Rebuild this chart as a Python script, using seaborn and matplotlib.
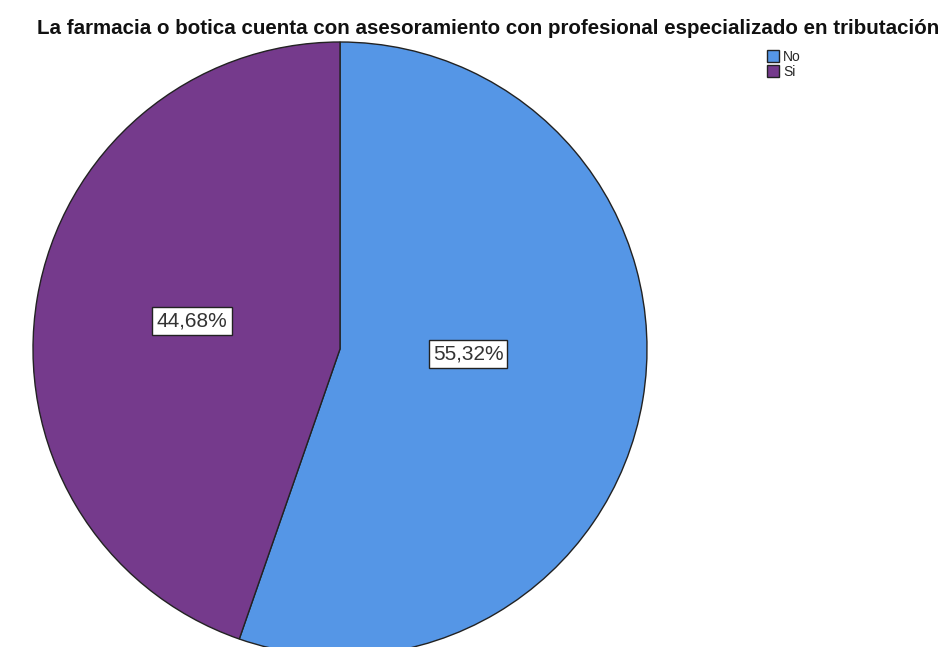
import matplotlib
matplotlib.use('Agg')
import matplotlib.pyplot as plt
import seaborn as sns

categories = ['No', 'Si']
percentages = [55.32, 44.68]
slice_colors = ['#5596E6', '#753A8C']
title = 'La farmacia o botica cuenta con asesoramiento con profesional especializado en tributación'
# label anchor points inside each slice (fraction of radius)
label_pos = [(0.417, -0.016), (-0.482, 0.091)]

sns.set_style('white')
plt.rcParams['font.family'] = ['Liberation Sans', 'DejaVu Sans']

fig = plt.figure(figsize=(9.44, 6.47), dpi=100)
W, H = 944, 647
cx, cy, r = 340, 647 - 349, 307
ax = fig.add_axes([(cx - r) / W, (cy - r) / H, 2 * r / W, 2 * r / H])

wedges, texts, autotexts = ax.pie(
    percentages, colors=slice_colors, startangle=90, counterclock=False,
    autopct=lambda p: f'{p:.2f}%'.replace('.', ','), pctdistance=0.45,
    wedgeprops=dict(edgecolor='#222222', linewidth=1.0), radius=1.0)
for t, pos in zip(autotexts, label_pos):
    t.set_position(pos)
    t.set_fontsize(15)
    t.set_color('#333333')
    t.set_bbox(dict(boxstyle='square,pad=0.2', facecolor='white', edgecolor='#222222', linewidth=1.0))
ax.set_xlim(-1, 1)
ax.set_ylim(-1, 1)
ax.set_aspect('equal')
for w in wedges:
    w.set_clip_on(False)

fig.text(488 / W, 1 - 28 / H, title, ha='center', va='center', fontsize=14.8, fontweight='bold', color='#111111')

leg = fig.legend(wedges, categories, loc='upper left', bbox_to_anchor=(760 / W, 1 - 43 / H),
                 frameon=False, fontsize=10, handlelength=0.9, handleheight=0.9,
                 handletextpad=0.25, labelspacing=0.05, borderpad=0)

fig.savefig('out.png', dpi=100)
